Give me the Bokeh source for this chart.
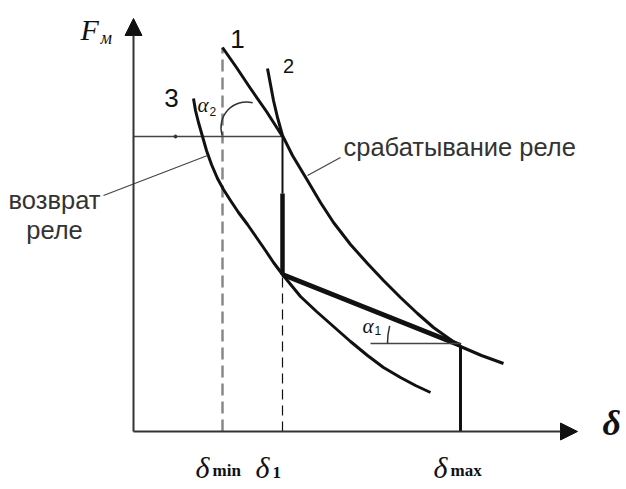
import math
from bokeh.plotting import figure
from bokeh.models import Range1d, Arrow, NormalHead
from bokeh.core.properties import value
from bokeh.embed import file_html
from bokeh.resources import INLINE

# ---- data (diagram units: delta to the right, F_m upward; origin = axes corner) ----
axis_x_end = 444          # end of delta axis
axis_y_end = 413          # end of F axis

delta_min = 89
delta_1 = 149
delta_max = 327

F_pickup = 295            # level of horizontal line (srabatyvanie)
F_step = 157              # bottom of vertical drop at delta_1
F_end = 86                # point on curve 2 at delta_max
F_vert_thin_end = 238     # where the drop becomes thick

curve1_d = [89, 103, 117, 133, 149]
curve1_F = [384, 364, 343, 320, 295]

curve2_d = [134, 137, 140, 144, 149, 159, 174, 187, 200, 217, 234, 250, 267, 284, 300, 314, 327, 348, 370]
curve2_F = [363, 347, 331, 314, 296, 276, 251, 229, 209, 187, 168, 151, 134, 118, 104, 94, 85, 76, 68]

curve3_d = [60, 62, 65, 69, 73, 78, 84, 90, 97, 105, 114, 123, 132, 140, 149, 158, 167, 183, 200, 217, 234, 250, 267, 282, 297]
curve3_F = [333, 321, 309, 295, 281, 267, 253, 242, 231, 219, 207, 194, 181, 169, 157, 146, 135, 120, 105, 90, 76, 64, 54, 46, 39]

F_min_top = 384           # top of delta_min dashed line
alpha1_line_start = 237
alpha1_F = 88

sub_labels = ["min", "1", "max"]
sub_delta = [delta_min, delta_1, delta_max]

AXIS = "#333333"
INK = "#111111"

p = figure(width=626, height=489, output_backend="svg", toolbar_location=None,
           x_range=Range1d(-133, 493), y_range=Range1d(-58, 431),
           min_border=0, outline_line_color=None)
p.axis.visible = False
p.grid.visible = False
p.background_fill_color = "white"

# axes with arrows
p.add_layout(Arrow(x_start=0, y_start=0, x_end=axis_x_end, y_end=0,
                   line_color=AXIS, line_width=2,
                   end=NormalHead(size=17, fill_color=INK, line_color=INK)))
p.add_layout(Arrow(x_start=0, y_start=0, x_end=0, y_end=axis_y_end,
                   line_color=AXIS, line_width=2,
                   end=NormalHead(size=17, fill_color=INK, line_color=INK)))

# dashed verticals
p.line([delta_min, delta_min], [0, F_min_top], line_color="#888888", line_width=2.5, line_dash="12 6")
p.line([delta_1, delta_1], [0, F_step], line_color=INK, line_width=1.2, line_dash="10 6")

# horizontal pickup level
p.line([0, delta_1], [F_pickup, F_pickup], line_color="#444444", line_width=1.5)
p.scatter([42], [F_pickup], size=3, color="#333333")

# curves
p.line(curve1_d, curve1_F, line_color=INK, line_width=3, line_join="round")
p.line(curve2_d, curve2_F, line_color=INK, line_width=3, line_join="round")
p.line(curve3_d, curve3_F, line_color=INK, line_width=3, line_join="round")

# operating path
p.line([delta_1, delta_1], [F_pickup, F_vert_thin_end], line_color=INK, line_width=2)
p.line([delta_1, delta_1], [F_vert_thin_end, F_step], line_color=INK, line_width=4.5)
p.line([delta_1, delta_max], [F_step, F_end], line_color=INK, line_width=5)
p.line([delta_max, delta_max], [F_end, 0], line_color=INK, line_width=3)

# alpha1 construction
p.line([alpha1_line_start, delta_max], [alpha1_F, alpha1_F], line_color="#444444", line_width=1.5)
p.arc(x=[delta_max], y=[alpha1_F], radius=73, start_angle=math.radians(166),
      end_angle=math.radians(180), direction="anticlock", line_color="#333333", line_width=1.5)

# alpha2 arc
p.arc(x=[113], y=[304], radius=25.5, start_angle=math.radians(76),
      end_angle=math.radians(198), direction="anticlock", line_color="#333333", line_width=1.5)

# leader lines
p.line([-30, 74], [236, 276], line_color="#444444", line_width=1.2)
p.line([174, 207], [256, 274], line_color="#444444", line_width=1.2)

SANS = value("Liberation Sans")
SERIF = value("Liberation Serif")

# curve numbers
p.text(x=[104], y=[393], text=["1"], text_font=SANS, text_font_size="26px",
       text_align="center", text_baseline="middle", text_color=INK)
p.text(x=[155], y=[366], text=["2"], text_font=SANS, text_font_size="20px",
       text_align="center", text_baseline="middle", text_color=INK)
p.text(x=[38], y=[334], text=["3"], text_font=SANS, text_font_size="26px",
       text_align="center", text_baseline="middle", text_color=INK)

# annotations
p.text(x=[210], y=[285], text=["срабатывание реле"], text_font=SANS, text_font_size="25.5px",
       text_align="left", text_baseline="alphabetic", text_color="#333333")
p.text(x=[-79, -79], y=[232, 202], text=["возврат", "реле"], text_font=SANS,
       text_font_size="25.5px", text_align="center", text_baseline="alphabetic", text_color="#333333")

# F_m label
p.text(x=[-53], y=[402], text=["F"], text_font=SERIF, text_font_style="italic",
       text_font_size="30px", text_align="left", text_baseline="alphabetic", text_color=INK)
p.text(x=[-33], y=[394], text=["м"], text_font=SERIF, text_font_style="italic",
       text_font_size="18px", text_align="left", text_baseline="alphabetic", text_color=INK)

# alpha labels
p.text(x=[64, 229], y=[327, 106], text=["α", "α"], text_font=SERIF, text_font_style="italic",
       text_font_size="21px", text_align="left", text_baseline="alphabetic", text_color=INK)
p.text(x=[76, 241], y=[320, 101], text=["2", "1"], text_font=SANS,
       text_font_size="12px", text_align="left", text_baseline="alphabetic", text_color=INK)

# delta tick labels
p.text(x=[d - 27 for d in sub_delta], y=[-36] * 3, text=["δ"] * 3, text_font=SERIF,
       text_font_style="italic", text_font_size="30px", text_align="left",
       text_baseline="alphabetic", text_color=INK)
p.text(x=[d - 10 for d in sub_delta], y=[-39, -41, -39], text=sub_labels, text_font=SERIF,
       text_font_style="bold", text_font_size="17px", text_align="left",
       text_baseline="alphabetic", text_color=INK)

# axis name delta
p.text(x=[469], y=[9], text=["δ"], text_font=SERIF, text_font_style="bold italic",
       text_font_size="36px", text_align="left", text_baseline="alphabetic", text_color=INK)

open("out.html", "w").write(file_html(p, INLINE))
